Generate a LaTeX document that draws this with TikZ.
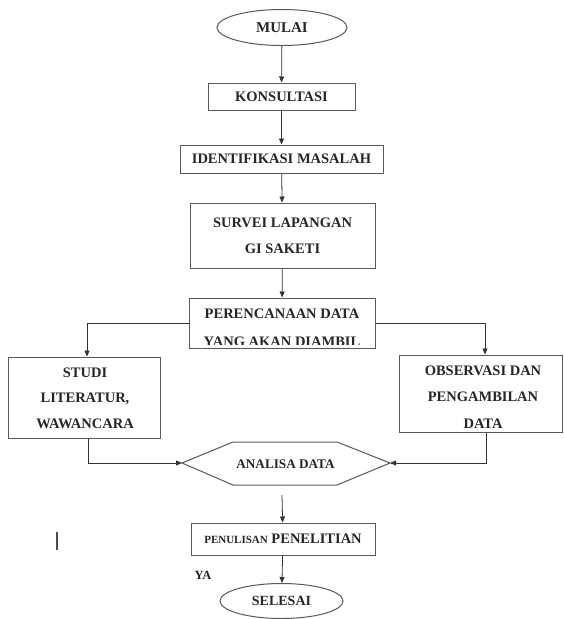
\documentclass[tikz,border=0pt]{standalone}
\usepackage{fontspec}
\setmainfont{Liberation Serif}
\usetikzlibrary{arrows.meta,shapes.geometric}
\begin{document}
\begin{tikzpicture}[x=1pt,y=-1pt,
  lbl/.style={font=\fontsize{14.5}{26}\selectfont\bfseries, align=center, text=black!85},
  box/.style={draw=black!65, line width=1pt, rectangle, inner sep=0pt, lbl},
  term/.style={draw=black!65, line width=1pt, ellipse, inner sep=0pt, lbl},
  arr/.style={draw=black!80, line width=0.8pt, -{Triangle[length=6pt,width=5pt]}}]
\useasboundingbox (0,0) rectangle (563,619);
\fill[white] (0,0) rectangle (563,619);

\node[term, minimum width=130pt, minimum height=36pt, font=\fontsize{15}{18}\selectfont\bfseries] (mulai) at (282,27.5) {MULAI};
\node[box, minimum width=147pt, minimum height=27pt] (kons) at (281.5,96.5) {KONSULTASI};
\node[box, minimum width=203pt, minimum height=28pt] (ident) at (281.5,159) {IDENTIFIKASI MASALAH};
\node[box, minimum width=185pt, minimum height=65pt] (survei) at (282.5,235.5) {SURVEI LAPANGAN\\GI SAKETI};
\node[box, minimum width=186pt, minimum height=50pt] (perenc) at (282,323) {};
\begin{scope}
  \clip (189,298) rectangle (375,344);
  \node[lbl, font=\fontsize{14.5}{28.5}\selectfont\bfseries] (perenctext) at (282,328) {PERENCANAAN DATA\\YANG AKAN DIAMBIL};
\end{scope}
\node[box, minimum width=152pt, minimum height=81pt] (studi) at (84,397.5) {};
\node[lbl, font=\fontsize{14.5}{25.5}\selectfont\bfseries] (studitext) at (85,398) {STUDI\\LITERATUR,\\WAWANCARA};
\node[box, minimum width=163pt, minimum height=77pt] (obs) at (480.5,393.5) {};
\node[lbl, font=\fontsize{14.5}{26.5}\selectfont\bfseries] (obstext) at (483,397) {OBSERVASI DAN\\PENGAMBILAN\\DATA};

\coordinate (hexL) at (182,463);
\coordinate (hexTL) at (233,442);
\coordinate (hexTR) at (337,442);
\coordinate (hexR) at (390,463);
\coordinate (hexBR) at (337,485);
\coordinate (hexBL) at (233,485);
\draw[draw=black!65, line width=1pt] (hexL) -- (hexTL) -- (hexTR) -- (hexR) -- (hexBR) -- (hexBL) -- cycle;
\node[lbl, font=\fontsize{13.2}{15}\selectfont\bfseries] (analisa) at (285.5,464) {ANALISA DATA};
\coordinate (hexB) at (282,495);

\node[box, minimum width=184pt, minimum height=32pt] (penul) at (283,539)
  {{\fontsize{11}{13}\selectfont PENULISAN} PENELITIAN};
\node[term, minimum width=123pt, minimum height=35pt, font=\fontsize{14}{16}\selectfont\bfseries] (selesai) at (281.5,601) {SELESAI};
\node[lbl, font=\fontsize{12.5}{14}\selectfont\bfseries] (ya) at (203,575) {YA};
\coordinate (barT) at (57,532);
\coordinate (barB) at (57,550);
\draw[black!70, line width=1.2pt] (barT) -- (barB);

\draw[arr] (mulai) -- (kons);
\draw[arr] (kons) -- (ident);
\draw[arr] (ident) -- (survei);
\draw[arr] (survei) -- (perenc);
\draw[arr] (perenc.west) -| ([xshift=3pt]studi.north);
\draw[arr] (perenc.east) -| ([xshift=4.5pt]obs.north);
\draw[arr] ([xshift=4pt]studi.south) |- (hexL);
\draw[arr] ([xshift=5.5pt]obs.south) |- (hexR);
\draw[arr] (hexB) -- (penul);
\draw[arr] (penul) -- (selesai);
\end{tikzpicture}
\end{document}
